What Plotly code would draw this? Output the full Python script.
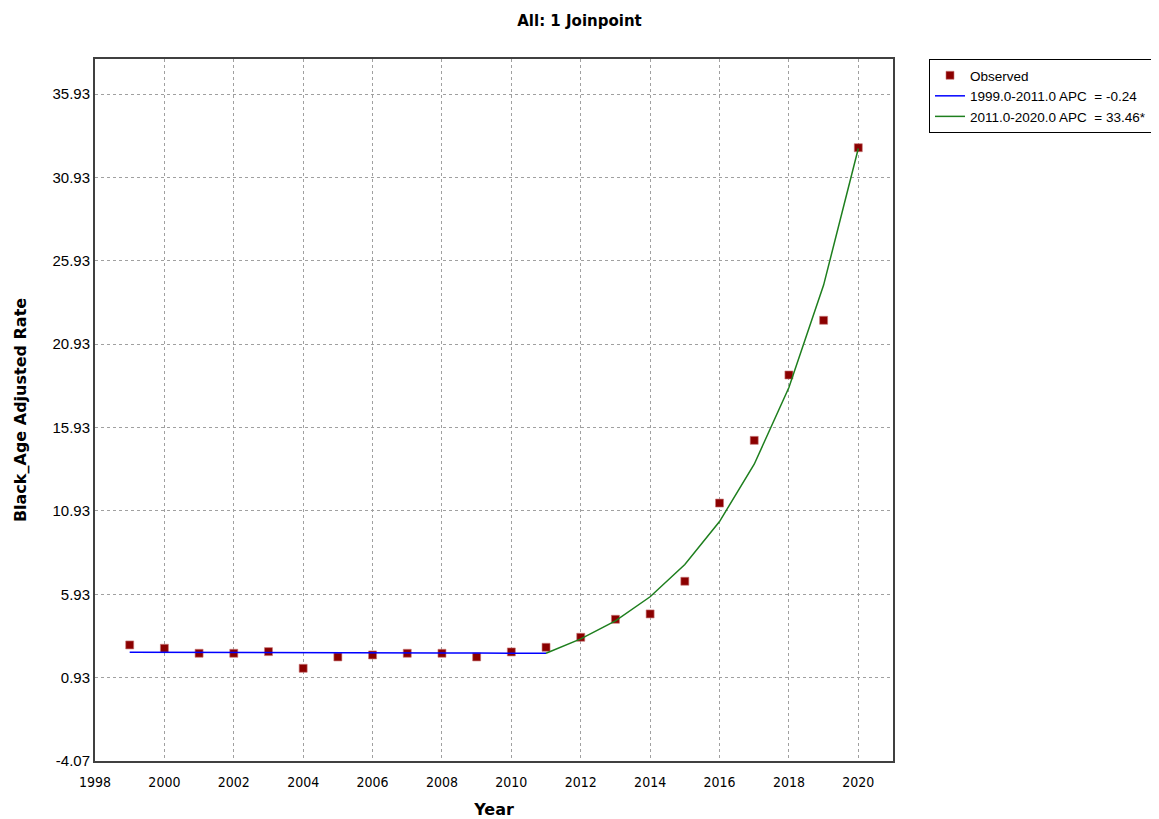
import plotly.graph_objects as go

years = list(range(1999, 2021))
observed = [2.89, 2.69, 2.39, 2.39, 2.49, 1.49, 2.17, 2.29, 2.39, 2.39, 2.17, 2.47,
            2.75, 3.35, 4.43, 4.75, 6.71, 11.40, 15.16, 19.08, 22.36, 32.71]

seg1_years = list(range(1999, 2012))
seg1_fit = [2.45, 2.44, 2.44, 2.43, 2.43, 2.42, 2.42, 2.41, 2.41, 2.40, 2.40, 2.39, 2.39]

seg2_years = list(range(2011, 2021))
seg2_fit = [2.39, 3.25, 4.33, 5.78, 7.71, 10.29, 13.73, 18.33, 24.47, 32.66]

ytick_vals = [-4.07, 0.93, 5.93, 10.93, 15.93, 20.93, 25.93, 30.93, 35.93]
xtick_vals = list(range(1998, 2021, 2))

legend_names = ["Observed", "1999.0-2011.0 APC  = -0.24", "2011.0-2020.0 APC  = 33.46*"]

fig = go.Figure()
fig.add_trace(go.Scatter(
    x=years, y=observed, mode="markers", name=legend_names[0],
    marker=dict(symbol="square", size=8, color="#8B0000",
                line=dict(color="rgba(200,120,120,0.6)", width=1))))
fig.add_trace(go.Scatter(
    x=seg1_years, y=seg1_fit, mode="lines", name=legend_names[1],
    line=dict(color="#0000FF", width=1.5)))
fig.add_trace(go.Scatter(
    x=seg2_years, y=seg2_fit, mode="lines", name=legend_names[2],
    line=dict(color="#1E7F1E", width=1.5)))

# page body has an 8px margin, so the figure is drawn 8px right and down
W, H = 1151, 811
xfont = dict(family="Liberation Sans Narrow, DejaVu Sans Condensed, Arial Narrow, sans-serif",
             size=14, color="#000000")
yfont = dict(family="Liberation Sans, Arial, sans-serif", size=15, color="#000000")
bold_font = "DejaVu Sans, Verdana, sans-serif"

fig.update_layout(
    width=W, height=H,
    margin=dict(l=87, r=266, t=51, b=58, autoexpand=False),
    paper_bgcolor="white", plot_bgcolor="white",
    title=dict(text="<b>All: 1 Joinpoint</b>", x=571.5 / W, xanchor="center",
               y=1 - 13 / H, yanchor="middle",
               font=dict(family=bold_font, size=15, color="#000000")),
    legend=dict(xref="container", yref="container",
                x=921 / W, y=1 - 51 / H, xanchor="left", yanchor="top",
                bgcolor="white", bordercolor="#000000", borderwidth=1,
                font=dict(family="Liberation Sans, Arial, sans-serif", size=13.5, color="#000000"),
                itemwidth=30, tracegroupgap=0),
    showlegend=True,
)

fig.update_xaxes(
    range=[1998, 2021], tickvals=xtick_vals, ticktext=[str(v) for v in xtick_vals],
    tickfont=xfont, ticks="outside", ticklen=7, tickcolor="rgba(0,0,0,0)",
    showgrid=True, gridcolor="#A0A0A0", griddash="dot", automargin=False,
    gridwidth=1, zeroline=False, showline=True, linecolor="#404040", linewidth=2,
    mirror=True,
    title=dict(text="<b>Year</b>", standoff=16,
               font=dict(family=bold_font, size=16, color="#000000")))

fig.update_yaxes(
    range=[-4.07, 38.03], tickvals=ytick_vals, ticktext=[f"{v:.2f}" for v in ytick_vals],
    tickfont=yfont, ticks="", showgrid=True, gridcolor="#A0A0A0", griddash="dot",
    gridwidth=1, zeroline=False, showline=True, linecolor="#404040", linewidth=2,
    mirror=True, automargin=False,
    title=dict(text="<b>Black_Age Adjusted Rate</b>", standoff=22,
               font=dict(family=bold_font, size=16, color="#000000")))

fig.write_html("out.html")
